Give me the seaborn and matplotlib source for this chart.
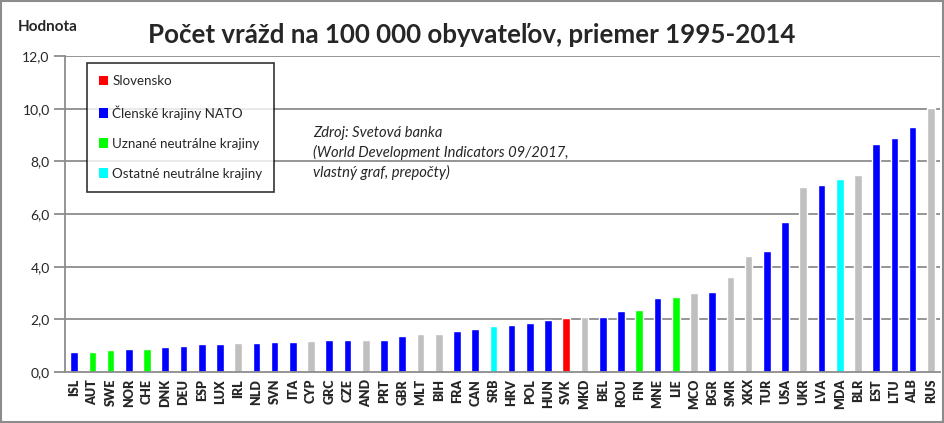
import matplotlib
matplotlib.use("Agg")
import matplotlib.pyplot as plt
import seaborn as sns
import pandas as pd
from matplotlib.patches import Patch, Rectangle

countries = ["ISL", "AUT", "SWE", "NOR", "CHE", "DNK", "DEU", "ESP", "LUX", "IRL",
             "NLD", "SVN", "ITA", "CYP", "GRC", "CZE", "AND", "PRT", "GBR", "MLT",
             "BIH", "FRA", "CAN", "SRB", "HRV", "POL", "HUN", "SVK", "MKD", "BEL",
             "ROU", "FIN", "MNE", "LIE", "MCO", "BGR", "SMR", "XKX", "TUR", "USA",
             "UKR", "LVA", "MDA", "BLR", "EST", "LTU", "ALB", "RUS"]
values = [0.75, 0.77, 0.84, 0.86, 0.89, 0.95, 0.99, 1.06, 1.06, 1.10,
          1.10, 1.13, 1.15, 1.18, 1.22, 1.22, 1.22, 1.22, 1.38, 1.44,
          1.44, 1.56, 1.63, 1.74, 1.79, 1.85, 1.98, 2.05, 2.08, 2.08,
          2.32, 2.35, 2.81, 2.84, 2.99, 3.03, 3.59, 4.42, 4.58, 5.70,
          7.04, 7.11, 7.33, 7.47, 8.67, 8.87, 9.30, 10.02]
groups = ["N", "U", "U", "N", "U", "N", "N", "N", "N", "O",
          "N", "N", "N", "O", "N", "N", "O", "N", "N", "O",
          "O", "N", "N", "C", "N", "N", "N", "S", "O", "N",
          "N", "U", "N", "U", "O", "N", "O", "O", "N", "N",
          "O", "N", "C", "O", "N", "N", "N", "O"]
legend_labels = ["Slovensko", "Členské krajiny NATO", "Uznané neutrálne krajiny",
                 "Ostatné neutrálne krajiny"]
legend_keys = ["S", "N", "U", "C"]
ytick_values = [0, 2, 4, 6, 8, 10, 12]
ytick_labels = ["0,0", "2,0", "4,0", "6,0", "8,0", "10,0", "12,0"]

palette = {"S": "#FF0000", "N": "#0000FF", "U": "#00FF00", "C": "#00FFFF", "O": "#C0C0C0"}

df = pd.DataFrame({"country": countries, "value": values, "group": groups})

sns.set_style("white")
plt.rcParams["font.family"] = ["Lato", "DejaVu Sans"]

W, H = 945, 423
fig = plt.figure(figsize=(W / 100, H / 100), dpi=100)
ax = fig.add_axes([65 / W, (H - 372) / H, (940 - 65) / W, (372 - 56) / H])

sns.barplot(data=df, x="country", y="value", hue="group", palette=palette,
            dodge=False, width=0.42, legend=False, ax=ax, order=countries,
            saturation=1)

ax.set_xlim(-0.5, len(countries) - 0.5)
ax.set_ylim(0, 12)
ax.set_yticks(ytick_values)
ax.set_yticklabels(ytick_labels, fontsize=10)
ax.set_xlabel("")
ax.set_ylabel("")
for y in ytick_values[1:]:
    ax.axhline(y, color="#8C8C8C", lw=1.3, zorder=0)

ax.set_xticks([i - 0.5 for i in range(len(countries) + 1)], minor=True)
ax.set_xticks(range(len(countries)))
ax.set_xticklabels(countries, rotation=90, fontsize=9, fontweight="heavy")
ax.tick_params(axis="x", which="major", length=0, pad=5)
ax.tick_params(axis="x", which="minor", length=4, color="#8C8C8C", width=1)
ax.tick_params(axis="y", length=8, color="#8C8C8C", width=1.3, pad=3, left=True)

for s in ["top", "right"]:
    ax.spines[s].set_visible(False)
for s in ["left", "bottom"]:
    ax.spines[s].set_color("#8C8C8C")
    ax.spines[s].set_linewidth(1.3)

handles = [Patch(facecolor=palette[k], edgecolor="none") for k in legend_keys]
leg = ax.legend(handles, legend_labels, loc="upper left",
                bbox_to_anchor=((87 - 65) / (940 - 65), (372 - 63) / (372 - 56)),
                frameon=True, fancybox=False, fontsize=9.6, handlelength=0.7,
                handleheight=0.7, handletextpad=0.3, labelspacing=1.35,
                borderpad=0.9, borderaxespad=0)
leg.get_frame().set_edgecolor("black")
leg.get_frame().set_linewidth(1.2)

fig.text(472 / W, 1 - 35 / H, "Počet vrážd na 100 000 obyvateľov, priemer 1995-2014",
         ha="center", va="center", fontsize=18.6, fontweight="bold")
fig.text(18 / W, 1 - 27 / H, "Hodnota", ha="left", va="center", fontsize=11,
         fontweight="bold")
src = ["Zdroj: Svetová banka", "(World Development Indicators 09/2017,",
       "vlastný graf, prepočty)"]
for i, line in enumerate(src):
    fig.text(313 / W, 1 - (133 + i * 19.5) / H, line, ha="left", va="center",
             fontsize=10.6, style="italic")

fig.patches.append(Rectangle((1.5 / W, 1.5 / H), (W - 3.5) / W, (H - 3) / H,
                             transform=fig.transFigure, fill=False,
                             edgecolor="#8C8C8C", lw=1.5))

fig.savefig("out.png", dpi=100)
